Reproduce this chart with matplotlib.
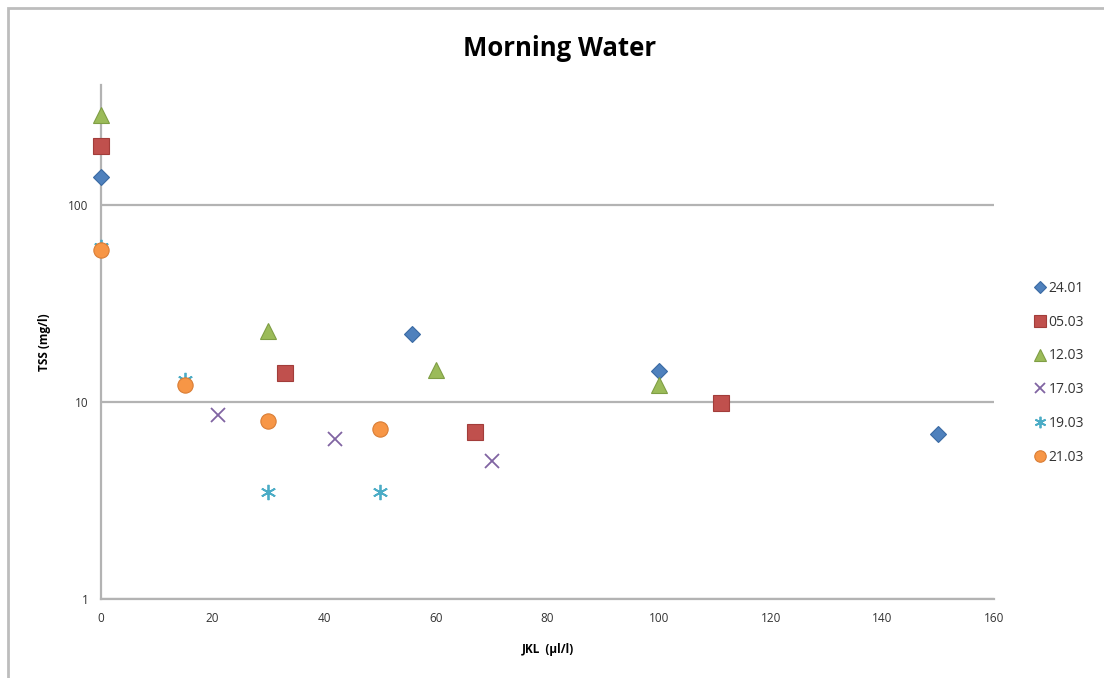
import matplotlib
matplotlib.use("Agg")
import matplotlib.pyplot as plt
from matplotlib.patches import Rectangle

# data
labels = ["24.01", "05.03", "12.03", "17.03", "19.03", "21.03"]
x_2401 = [0, 55.7, 100, 150]
y_2401 = [139, 22.1, 14.4, 6.9]
x_0503 = [0, 33, 67, 111]
y_0503 = [200, 14.0, 7.0, 9.9]
x_1203 = [0, 30, 60, 100]
y_1203 = [285, 23.0, 14.5, 12.2]
x_1703 = [21, 42, 70]
y_1703 = [8.6, 6.5, 5.0]
x_1903 = [0, 15, 30, 50]
y_1903 = [61, 12.9, 3.5, 3.5]
x_2103 = [0, 15, 30, 50]
y_2103 = [59, 12.2, 8.0, 7.3]

colors = ["#4f81bd", "#c0504d", "#9bbb59", "#8064a2", "#4bacc6", "#f79646"]
edges = ["#3a6aa3", "#a23d3a", "#7f9e44", "#8064a2", "#4bacc6", "#d97d35"]
markers = ["D", "s", "^", "x", (6, 2, 0), "o"]
sizes = [8.5, 11, 11, 10, 11, 11]


def main():
    plt.rcParams['font.family'] = ['Open Sans', 'DejaVu Sans']
    fig = plt.figure(figsize=(11.04, 6.78), dpi=100)
    ax = fig.add_axes([0.0915, 0.1165, 0.8089, 0.7581])

    xs = [x_2401, x_0503, x_1203, x_1703, x_1903, x_2103]
    ys = [y_2401, y_0503, y_1203, y_1703, y_1903, y_2103]
    for i in range(len(labels)):
        lw = 1.3 if i in (3, 4) else 0.8
        ax.plot(xs[i], ys[i], linestyle="none", marker=markers[i],
                markersize=sizes[i], color=colors[i],
                markeredgecolor=edges[i], markeredgewidth=lw,
                label=labels[i], clip_on=False, zorder=3)

    ax.set_yscale("log")
    ax.set_ylim(1, 406)
    ax.set_xlim(0, 160)
    ax.set_xticks(range(0, 161, 20))
    ax.set_yticks([1, 10, 100])
    ax.set_yticklabels(["1", "10", "100"])
    ax.minorticks_off()
    ax.tick_params(length=0, labelsize=8.5, colors="#333333", pad=9)
    ax.yaxis.grid(True, color="#b3b3b3", linewidth=1.6)
    ax.set_axisbelow(True)

    for side in ("top", "right"):
        ax.spines[side].set_visible(False)
    for side in ("left", "bottom"):
        ax.spines[side].set_color("#b3b3b3")
        ax.spines[side].set_linewidth(1.6)

    ax.set_xlabel("JKL  (µl/l)", fontsize=8.5, fontweight="bold", labelpad=13)
    ax.set_ylabel("TSS (mg/l)", fontsize=8.5, fontweight="bold", labelpad=12)
    fig.text(0.507, 0.928, "Morning Water", ha="center", va="center",
             fontsize=18.5, fontweight="bold")

    leg = ax.legend(loc="center left", bbox_to_anchor=(1.03, 0.44),
                    frameon=False, fontsize=10, labelspacing=1.35,
                    handletextpad=0.1, handlelength=1.0, markerscale=0.75)
    for t in leg.get_texts():
        t.set_color("#333333")

    # chart border (clipped at right and bottom like the reference)
    border = Rectangle((8 / 1104, -0.1), 1.2, 1 - 8 / 678 + 0.1,
                       transform=fig.transFigure, fill=False,
                       edgecolor="#bdbdbd", linewidth=2)
    fig.patches.append(border)

    fig.savefig("out.png", dpi=100)


if __name__ == "__main__":
    main()
